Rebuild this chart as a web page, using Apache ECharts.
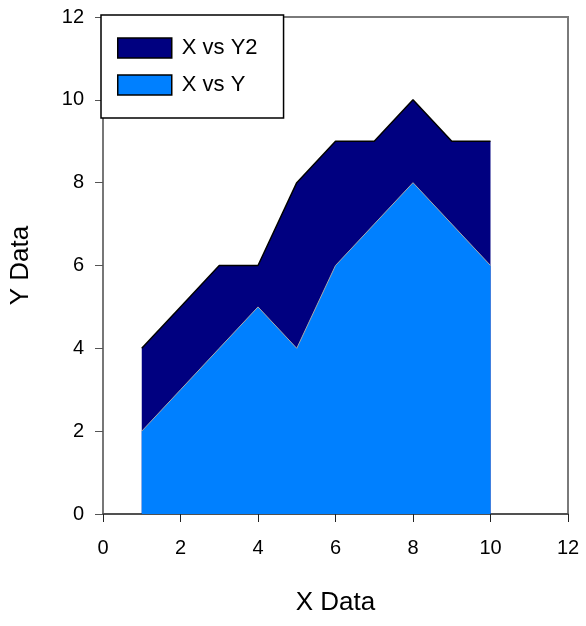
<!DOCTYPE html>
<html><head><meta charset="utf-8">
<script src="https://cdn.jsdelivr.net/npm/echarts@6/dist/echarts.min.js"></script>
<style>html,body{margin:0;padding:0;background:#fff}#c{width:586px;height:626px}</style>
</head><body><div id="c"></div>
<script>
const xValues = [1, 2, 3, 4, 5, 6, 7, 8, 9, 10];
const yValues = [2, 3, 4, 5, 4, 6, 7, 8, 7, 6];
const y2Values = [4, 5, 6, 6, 8, 9, 9, 10, 9, 9];
const seriesNames = ['X vs Y2', 'X vs Y'];
const FONT = "'Liberation Sans', Arial, sans-serif";

const pairs = (ys) => xValues.map((x, i) => [x, ys[i]]);

const chart = echarts.init(document.getElementById('c'));
chart.setOption({
  animation: false,
  backgroundColor: '#fff',
  grid: { left: 102, right: 18, top: 17, bottom: 112, containLabel: false,
          show: true, borderColor: '#7a7a7a', borderWidth: 2, backgroundColor: 'transparent' },
  legend: {
    orient: 'vertical', left: 101, top: 15,
    padding: [22, 26, 22, 16],
    itemWidth: 54, itemHeight: 20, itemGap: 15,
    backgroundColor: '#fff', borderColor: '#000', borderWidth: 1.5, borderRadius: 0,
    icon: 'rect',
    textStyle: { fontFamily: FONT, fontSize: 22, color: '#000', padding: [0, 0, 0, 5] },
    z: 10,
    data: [
      { name: seriesNames[0], itemStyle: { color: '#000080', borderColor: '#000', borderWidth: 1.5 } },
      { name: seriesNames[1], itemStyle: { color: '#0080FF', borderColor: '#000', borderWidth: 1.5 } }
    ]
  },
  xAxis: {
    type: 'value', min: 0, max: 12, interval: 2,
    name: 'X Data', nameLocation: 'middle', nameGap: 76,
    nameTextStyle: { fontFamily: FONT, fontSize: 26, color: '#000' },
    axisLine: { show: true, onZero: false, lineStyle: { color: '#444', width: 1.5 } },
    axisTick: { show: true, inside: false, length: 8, lineStyle: { color: '#222' } },
    axisLabel: { fontFamily: FONT, fontSize: 20, color: '#000', margin: 24 },
    splitLine: { show: false }
  },
  yAxis: {
    type: 'value', min: 0, max: 12, interval: 2,
    name: 'Y Data', nameLocation: 'middle', nameGap: 69,
    nameTextStyle: { fontFamily: FONT, fontSize: 26, color: '#000' },
    axisLine: { show: true, onZero: false, lineStyle: { color: '#777', width: 1.5 } },
    axisTick: { show: true, inside: false, length: 8, lineStyle: { color: '#555' } },
    axisLabel: { fontFamily: FONT, fontSize: 20, color: '#000', margin: 19 },
    splitLine: { show: false }
  },
  series: [
    {
      name: seriesNames[0], type: 'line', data: pairs(y2Values),
      showSymbol: false, symbol: 'none',
      itemStyle: { color: '#000080' },
      lineStyle: { color: '#000', width: 1.5 },
      areaStyle: { color: '#000080', opacity: 1, origin: 'start' },
      z: 2
    },
    {
      name: seriesNames[1], type: 'line', data: pairs(yValues),
      showSymbol: false, symbol: 'none',
      itemStyle: { color: '#0080FF' },
      lineStyle: { color: '#a8a8a8', width: 1 },
      areaStyle: { color: '#0080FF', opacity: 1, origin: 'start' },
      z: 3
    }
  ]
});
</script></body></html>
